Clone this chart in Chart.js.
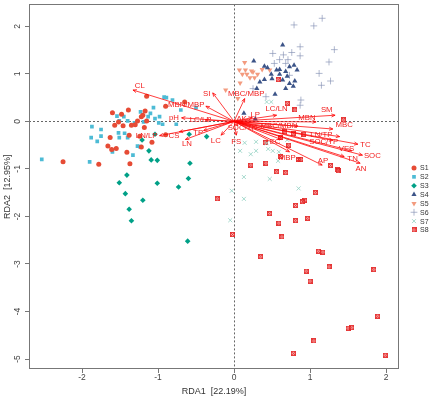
<!DOCTYPE html>
<html>
<head>
<meta charset="utf-8">
<script src="https://cdn.jsdelivr.net/npm/chart.js@4.4.0/dist/chart.umd.min.js"></script>
<style>
  html, body { margin: 0; padding: 0; background: #fff; }
</style>
</head>
<body>
<canvas id="rdaChart" width="443" height="399"></canvas>
<script>
// sample scores (RDA1, RDA2) per group
const groupNames = ['S1', 'S2', 'S3', 'S4', 'S5', 'S6', 'S7', 'S8'];
const s1 = [[-1.15,0.53],[-0.65,0.41],[-0.90,0.32],[-1.39,0.24],[-1.60,0.18],[-1.48,0.15],[-1.17,0.22],[-1.22,0.10],
  [-1.27,0.01],[-1.35,-0.08],[-1.46,-0.09],[-1.57,-0.08],[-1.30,-0.07],[-1.15,0.01],[-1.63,-0.34],[-1.38,-0.29],
  [-1.08,-0.44],[-1.22,-0.54],[-1.55,-0.57],[-1.66,-0.52],[-1.61,-0.59],[-1.41,-0.65],[-1.78,-0.90],[-1.37,-0.89],
  [-2.25,-0.85],[-0.90,-0.28],[-1.18,-0.13],[-1.24,-0.31],[-1.52,-0.01],[-1.20,0.13]];
const s2 = [[-0.92,0.51],[-0.89,0.50],[-0.81,0.45],[-1.06,0.29],[-0.70,0.24],[-0.50,0.29],[-1.23,0.20],[-1.10,0.17],
  [-1.13,0.10],[-1.04,0.06],[-1.54,0.11],[-1.45,0.10],[-1.51,0.01],[-1.40,0.01],[-1.31,-0.03],[-0.99,-0.03],
  [-0.94,-0.06],[-0.76,-0.06],[-1.87,-0.11],[-1.75,-0.17],[-1.88,-0.34],[-1.75,-0.31],[-1.80,-0.42],[-1.52,-0.24],
  [-1.51,-0.34],[-1.40,-0.34],[-1.44,-0.25],[-1.27,-0.52],[-1.24,-0.53],[-1.60,-0.64],[-1.33,-0.71],[-2.53,-0.80],
  [-1.90,-0.85],[-1.19,-0.01],[-0.98,0.10]];
const s3 = [[-0.59,-0.27],[-0.36,-0.32],[-1.04,-0.27],[-1.21,-0.39],[-1.12,-0.62],[-1.09,-0.81],[-1.01,-0.82],
  [-0.58,-0.88],[-1.41,-1.13],[-1.51,-1.29],[-1.01,-1.30],[-0.60,-1.20],[-0.73,-1.38],[-1.43,-1.52],[-1.20,-1.66],
  [-1.38,-1.85],[-1.35,-2.09],[-0.61,-2.52]];
const s4 = [[0.64,1.61],[0.26,1.27],[0.40,1.16],[0.44,1.13],[0.56,1.08],[0.60,1.09],[0.68,1.05],[0.73,1.15],
  [0.79,1.18],[0.83,1.08],[0.80,0.85],[0.73,0.80],[0.68,0.69],[0.78,0.74],[0.54,0.57],[0.30,0.69],[0.34,0.83],
  [0.40,0.88],[0.50,0.90],[0.64,0.87],[0.13,0.17],[0.28,0.05],[0.49,0.99],[0.70,0.95],[0.60,0.99]];
const s5 = [[0.14,1.24],[0.07,1.08],[0.15,1.08],[0.23,1.06],[0.17,0.99],[0.27,0.92],[0.21,0.92],[0.31,0.99],
  [0.37,1.09],[0.47,1.08],[0.08,0.81],[-0.11,0.66],[0.05,0.48],[0.25,1.04],[0.11,0.99]];
const s6 = [[1.16,2.17],[1.05,2.01],[0.79,2.03],[1.32,1.51],[0.87,1.57],[0.76,1.45],[0.51,1.43],[0.65,1.40],
  [0.87,1.38],[1.25,1.25],[0.53,1.22],[0.71,1.30],[1.12,1.01],[1.27,0.85],[1.15,0.76],[0.88,0.45],[0.87,0.34],
  [0.68,1.22],[0.73,0.97],[0.60,1.30],[0.42,0.52],[0.25,0.69]];
const s7 = [[0.43,0.41],[0.49,0.41],[0.14,-0.45],[0.29,-0.43],[0.08,-0.62],[0.22,-0.69],[0.29,-0.62],[0.45,-0.58],
  [0.51,-0.62],[0.59,-0.64],[0.70,-0.39],[0.58,-0.83],[0.13,-1.17],[0.47,-1.21],[-0.03,-1.46],[0.13,-1.63],
  [0.85,-1.41],[-0.05,-2.08],[0.43,-0.46]];
const s8 = [[0.58,0.88],[0.70,0.38],[0.80,0.24],[1.44,0.03],[0.41,-0.45],[0.72,-0.50],[0.85,-0.80],[0.88,-0.80],
  [0.61,-0.74],[0.22,-0.92],[0.42,-0.88],[0.56,-1.06],[0.68,-1.08],[1.27,-0.93],[1.36,-1.02],[1.37,-1.04],
  [1.07,-1.50],[0.93,-1.66],[0.90,-1.69],[0.81,-1.77],[-0.22,-1.63],[0.47,-1.94],[0.59,-2.14],[0.81,-2.09],
  [0.97,-2.04],[-0.02,-2.38],[0.63,-2.43],[1.11,-2.73],[1.17,-2.75],[0.35,-2.85],[1.25,-3.06],[1.84,-3.12],
  [0.95,-3.15],[1.00,-3.36],[1.89,-4.10],[1.50,-4.35],[1.55,-4.34],[1.05,-4.62],[0.78,-4.88],[1.99,-4.92],
  [0.78,-0.26],[0.92,-0.27],[0.61,-0.34],[0.67,-0.22]];

// environmental arrows: tip and label position (data units)
const envNames = ['CL','SI','MBC/MBP','MBN/MBP','pH','LC/LP','LN/LP','CS','LN','TP','LC','FS','SOC/TN','AK',
  'LP','LC/LN','SM','MBN','MBC','MBC/MBN','LN/TP','SOC/TP','TC','VES','SOC','TN','AN','AP','MBP','EC'];
const envX = [-1.33,-0.28,0.14,-0.37,-0.69,-0.38,-0.98,-0.72,-0.64,-0.40,-0.17,0.03,0.05,0.05,
  0.24,0.56,1.33,1.08,1.30,0.84,1.39,1.30,1.63,1.55,1.69,1.45,1.66,1.16,0.73,0.62];
const envY = [0.66,0.60,0.48,0.32,0.075,0.03,-0.30,-0.22,-0.38,-0.19,-0.29,-0.29,-0.09,0.02,
  0.08,0.13,0.13,-0.01,-0.16,-0.10,-0.32,-0.40,-0.48,-0.62,-0.71,-0.74,-0.88,-0.92,-0.64,-0.38];
const labelX = [-1.24,-0.36,0.16,-0.63,-0.79,-0.44,-1.15,-0.79,-0.62,-0.47,-0.24,0.03,0.11,0.10,
  0.28,0.56,1.22,0.96,1.45,0.59,1.15,1.18,1.73,1.48,1.82,1.56,1.67,1.17,0.70,0.54];
const labelY = [0.75,0.59,0.57,0.35,0.07,0.03,-0.31,-0.31,-0.48,-0.25,-0.41,-0.42,-0.14,0.05,
  0.14,0.27,0.24,0.07,-0.08,-0.09,-0.29,-0.43,-0.50,-0.57,-0.73,-0.79,-0.99,-0.83,-0.76,-0.43];

const xTicks = [-2, -1, 0, 1, 2];
const yTicks = [2, 1, 0, -1, -2, -3, -4, -5];

// boxed cross marker for S8
function boxCross() {
  const c = document.createElement('canvas');
  c.width = 5; c.height = 5;
  const g = c.getContext('2d');
  g.fillStyle = 'rgba(245,130,130,0.55)';
  g.fillRect(0, 0, 5, 5);
  g.strokeStyle = 'rgba(225,30,30,0.8)';
  g.lineWidth = 1;
  g.strokeRect(0.5, 0.5, 4, 4);
  g.beginPath();
  g.moveTo(0.5, 0.5); g.lineTo(4.5, 4.5);
  g.moveTo(4.5, 0.5); g.lineTo(0.5, 4.5);
  g.stroke();
  return c;
}

const pts = arr => arr.map(p => ({ x: p[0], y: p[1] }));
const styles = [
  { data: s1, color: '#E64B35', pointStyle: 'circle', radius: 2.5 },
  { data: s2, color: '#4DBBD5', pointStyle: 'rect', radius: 2.6 },
  { data: s3, color: '#00A087', pointStyle: 'rectRot', radius: 2.8 },
  { data: s4, color: '#3C5488', pointStyle: 'triangle', radius: 3 },
  { data: s5, color: '#F39B7F', pointStyle: 'triangle', radius: 3, rotation: 180 },
  { data: s6, color: 'rgba(132,145,180,0.65)', pointStyle: 'cross', radius: 3.4, line: true },
  { data: s7, color: 'rgba(145,209,194,0.8)', pointStyle: 'crossRot', radius: 2.8, line: true },
  { data: s8, color: 'rgba(225,30,30,0.8)', pointStyle: boxCross(), radius: 2.5 }
];

const datasets = styles.map((s, i) => ({
  label: groupNames[i],
  data: pts(s.data),
  pointStyle: s.pointStyle,
  pointRotation: s.rotation || 0,
  pointRadius: s.radius,
  pointHoverRadius: s.radius,
  backgroundColor: s.color,
  borderColor: s.color,
  borderWidth: s.line ? 1 : 0
}));

const overlay = {
  id: 'overlay',
  beforeDatasetsDraw(chart) {
    const { ctx, chartArea: a, scales: { x, y } } = chart;
    ctx.save();
    ctx.strokeStyle = '#666';
    ctx.lineWidth = 1;
    ctx.setLineDash([2, 2]);
    const x0 = Math.round(x.getPixelForValue(0)) + 0.5;
    const y0 = Math.round(y.getPixelForValue(0)) + 0.5;
    ctx.beginPath();
    ctx.moveTo(x0, a.top); ctx.lineTo(x0, a.bottom);
    ctx.moveTo(a.left, y0); ctx.lineTo(a.right, y0);
    ctx.stroke();
    ctx.restore();
  },
  afterDatasetsDraw(chart) {
    const { ctx, chartArea: a, scales: { x, y } } = chart;
    const ox = x.getPixelForValue(0), oy = y.getPixelForValue(0);

    // arrows
    ctx.save();
    ctx.strokeStyle = 'rgba(255,0,0,0.85)';
    ctx.lineWidth = 0.9;
    envNames.forEach((n, i) => {
      const tx = x.getPixelForValue(envX[i]), ty = y.getPixelForValue(envY[i]);
      const ang = Math.atan2(ty - oy, tx - ox);
      ctx.beginPath();
      ctx.moveTo(ox, oy); ctx.lineTo(tx, ty);
      ctx.moveTo(tx - 4 * Math.cos(ang - 0.4), ty - 4 * Math.sin(ang - 0.4));
      ctx.lineTo(tx, ty);
      ctx.lineTo(tx - 4 * Math.cos(ang + 0.4), ty - 4 * Math.sin(ang + 0.4));
      ctx.stroke();
    });
    ctx.fillStyle = '#F21A1A';
    ctx.font = '7.8px "Liberation Sans", Arial, sans-serif';
    ctx.textAlign = 'center';
    ctx.textBaseline = 'middle';
    envNames.forEach((n, i) => {
      ctx.fillText(n, x.getPixelForValue(labelX[i]), y.getPixelForValue(labelY[i]));
    });
    ctx.restore();

    // plot box
    ctx.save();
    ctx.strokeStyle = '#777';
    ctx.lineWidth = 1;
    ctx.strokeRect(Math.round(a.left) + 0.5, Math.round(a.top) + 0.5,
      Math.round(a.width) - 1, Math.round(a.height) - 1);

    // rotated y tick labels
    ctx.fillStyle = '#444';
    ctx.font = '8.5px "Liberation Sans", Arial, sans-serif';
    ctx.textAlign = 'center';
    ctx.textBaseline = 'middle';
    yTicks.forEach(v => {
      ctx.save();
      ctx.translate(18, y.getPixelForValue(v));
      ctx.rotate(-Math.PI / 2);
      ctx.fillText(String(v), 0, 0);
      ctx.restore();
    });

    // legend
    const lx = a.right + 15, ly = 168;
    ctx.font = '7px "Liberation Sans", Arial, sans-serif';
    ctx.textAlign = 'left';
    chart.data.datasets.forEach((ds, i) => {
      const yy = ly + i * 8.85;
      ctx.fillStyle = ds.backgroundColor;
      ctx.strokeStyle = ds.borderColor;
      ctx.lineWidth = ds.borderWidth;
      Chart.helpers.drawPoint(ctx, {
        pointStyle: ds.pointStyle, rotation: ds.pointRotation,
        radius: ds.pointRadius, borderWidth: ds.borderWidth
      }, lx, yy);
      ctx.fillStyle = '#333';
      ctx.fillText(ds.label, lx + 6, yy + 0.5);
    });
    ctx.restore();
  }
};

new Chart(document.getElementById('rdaChart'), {
  type: 'scatter',
  data: { datasets },
  options: {
    responsive: false,
    animation: false,
    layout: { padding: { left: 0, top: 4, right: 44, bottom: 0 } },
    plugins: { legend: { display: false }, tooltip: { enabled: false } },
    scales: {
      x: {
        type: 'linear', min: -2.698, max: 2.171,
        afterBuildTicks: s => { s.ticks = xTicks.map(v => ({ value: v })); },
        afterFit: s => { s.height = 30; },
        grid: { drawOnChartArea: false, drawTicks: true, tickLength: 4, color: '#777' },
        border: { display: false },
        ticks: { padding: 0, color: '#444', font: { size: 8.5, family: '"Liberation Sans", Arial' },
          callback: v => String(v), maxRotation: 0 },
        title: { display: true, text: 'RDA1  [22.19%]', color: '#333', padding: { top: 0, bottom: 2 },
          font: { size: 9, family: '"Liberation Sans", Arial' } }
      },
      y: {
        type: 'linear', min: -5.21, max: 2.462,
        afterBuildTicks: s => { s.ticks = yTicks.map(v => ({ value: v })); },
        afterFit: s => { s.width = 29; },
        grid: { drawOnChartArea: false, drawTicks: true, tickLength: 4, color: '#777' },
        border: { display: false },
        ticks: { display: false },
        title: { display: true, text: 'RDA2  [12.95%]', color: '#333', padding: { top: 2, bottom: 0 },
          font: { size: 9, family: '"Liberation Sans", Arial' } }
      }
    }
  },
  plugins: [overlay]
});
</script>
</body>
</html>
